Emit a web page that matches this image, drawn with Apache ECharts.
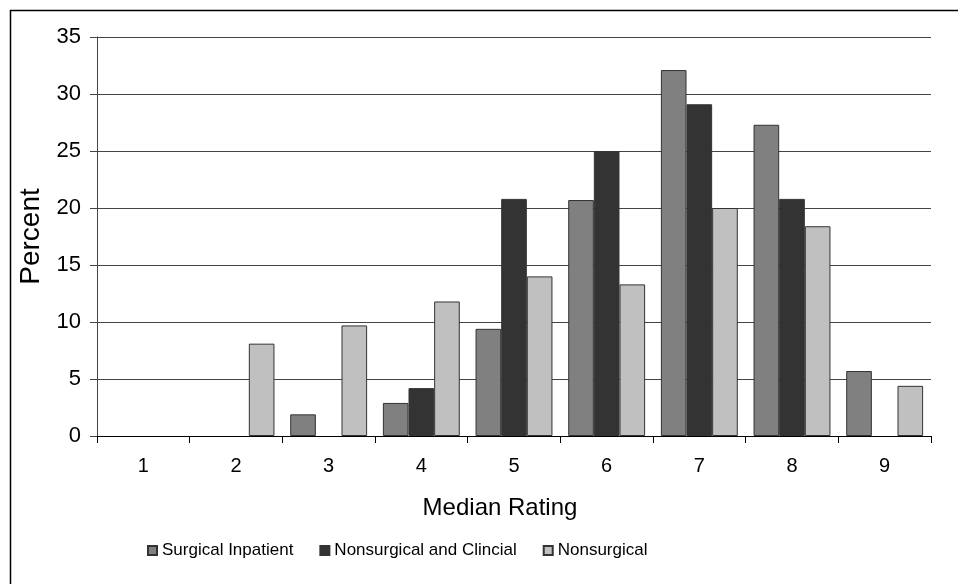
<!DOCTYPE html>
<html>
<head>
<meta charset="utf-8">
<style type="text/css">
    body { margin: 0; padding: 0; background: #fff; }
    #chart_main { width: 958px; height: 584px; }
</style>
<script src="https://cdn.jsdelivr.net/npm/echarts@6/dist/echarts.min.js"></script>
</head>
<body>
<div id="chart_main"></div>
<script type="text/javascript">
// median rating categories
var ratings = ['1', '2', '3', '4', '5', '6', '7', '8', '9'];
// percent per rating, '-' = no bar
var surgicalInpatient = ['-', '-', 1.9, 2.9, 9.4, 20.7, 32.1, 27.3, 5.7];
var nonsurgicalClinical = ['-', '-', '-', 4.2, 20.8, 25.0, 29.1, 20.8, '-'];
var nonsurgical = ['-', 8.1, 9.7, 11.8, 14.0, 13.3, 20.0, 18.4, 4.4];
var seriesNames = ['Surgical Inpatient', 'Nonsurgical and Clincial', 'Nonsurgical'];

var font = "'Liberation Sans', Arial, sans-serif";

function barSeries(name, data, color) {
    return {
        name: name,
        type: 'bar',
        data: data,
        barGap: '0%',
        barCategoryGap: '17%',
        itemStyle: { color: color, borderColor: '#333', borderWidth: 1 },
        emphasis: { disabled: true }
    };
}

var myChart = echarts.init(document.getElementById('chart_main'));
myChart.setOption({
    animation: false,
    backgroundColor: '#fff',
    graphic: [{
        type: 'rect',
        shape: { x: 10.5, y: 10.5, width: 1000, height: 1000 },
        style: { fill: null, stroke: '#000', lineWidth: 1.5 },
        silent: true
    }],
    grid: { left: 97, top: 37, right: 27, bottom: 148 },
    legend: {
        left: 142,
        top: 537,
        itemWidth: 9,
        itemHeight: 9,
        itemGap: 26,
        icon: 'rect',
        textStyle: { fontFamily: font, fontSize: 17, color: '#000' },
        data: seriesNames
    },
    xAxis: {
        type: 'category',
        data: ratings,
        name: 'Median Rating',
        nameLocation: 'middle',
        nameGap: 60,
        nameTextStyle: { fontFamily: font, fontSize: 24, color: '#000', padding: [0, 28, 0, 0] },
        axisLine: { lineStyle: { color: '#000', width: 1 } },
        axisTick: { show: true, length: 7, lineStyle: { color: '#000' } },
        axisLabel: { fontFamily: font, fontSize: 20, color: '#000', margin: 20 }
    },
    yAxis: {
        type: 'value',
        min: 0,
        max: 35,
        interval: 5,
        name: 'Percent',
        nameLocation: 'middle',
        nameGap: 50,
        nameTextStyle: { fontFamily: font, fontSize: 28, color: '#000' },
        axisLine: { show: true, lineStyle: { color: '#444', width: 1 } },
        axisTick: { show: true, length: 7, lineStyle: { color: '#444' } },
        axisLabel: { fontFamily: font, fontSize: 22, color: '#000', margin: 16 },
        splitLine: { show: true, lineStyle: { color: '#444', width: 1 } }
    },
    series: [
        barSeries(seriesNames[0], surgicalInpatient, '#808080'),
        barSeries(seriesNames[1], nonsurgicalClinical, '#333333'),
        barSeries(seriesNames[2], nonsurgical, '#c0c0c0')
    ]
});
</script>
</body>
</html>
